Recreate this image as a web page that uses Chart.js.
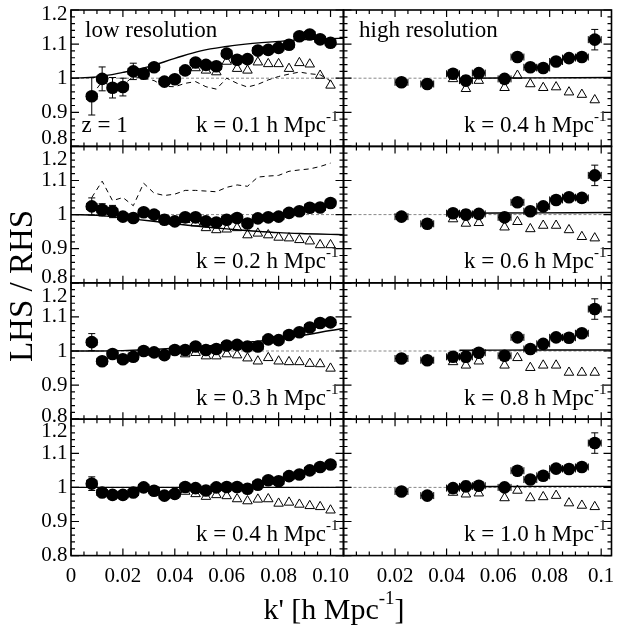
<!DOCTYPE html>
<html>
<head>
<meta charset="utf-8">
<script src="https://cdn.jsdelivr.net/npm/chart.js@4.4.1/dist/chart.umd.min.js"></script>
<style>
html, body { margin: 0; padding: 0; background: #fff; }
#wrap { position: relative; width: 618px; height: 626px; overflow: hidden; }
#wrap canvas { position: absolute; left: 0; top: 0; }
</style>
</head>
<body>
<div id="wrap"></div>
<script>
// k' positions of the bins
const lowK = [0.008, 0.012, 0.016, 0.020, 0.024, 0.028, 0.032, 0.036, 0.040, 0.044, 0.048, 0.052,
              0.056, 0.060, 0.064, 0.068, 0.072, 0.076, 0.080, 0.084, 0.088, 0.092, 0.096, 0.100];
const highK = [0.0225, 0.0325, 0.0425, 0.0475, 0.0525, 0.0625, 0.0675, 0.0725, 0.0775, 0.0825, 0.0875, 0.0925, 0.0975];
const lowDK = 0.002;
const highDK = 0.0025;

// smooth model curves
const theoryK = [0, 0.01, 0.02, 0.03, 0.04, 0.05, 0.06, 0.07, 0.08, 0.09, 0.10, 0.105];
const highTheoryK = [0.045, 0.075, 0.105];
const refK = [0, 0.105];
const refY = [1, 1];

// low resolution, k = 0.1
const lowCircle1 = [0.947, 0.998, 0.972, 0.974, 1.020, 1.013, 1.032, 0.990, 0.997, 1.023, 1.046, 1.039,
                    1.035, 1.072, 1.054, 1.056, 1.081, 1.083, 1.089, 1.098, 1.123, 1.128, 1.114, 1.104];
const lowErr1 = [0.055, 0.035, 0.030, 0.026, 0.024, 0.015, 0.010, 0.008, 0.007, 0.007, 0.006, 0.006,
                 0.006, 0.006, 0.005, 0.005, 0.005, 0.005, 0.005, 0.005, 0.005, 0.005, 0.005, 0.005];
const lowTri1 = [0.947, 0.998, 0.972, 0.974, 1.020, 1.013, 1.032, 0.990, 0.997, 1.020, 1.030, 1.023,
                 1.018, 1.049, 1.028, 1.023, 1.047, 1.042, 1.042, 1.028, 1.045, 1.041, 1.008, 0.979];
const lowDash1 = [0.950, 0.990, 0.975, 0.980, 1.005, 1.000, 0.993, 0.976, 0.975, 0.985, 0.990, 0.975,
                  0.968, 1.000, 0.985, 0.974, 0.982, 0.995, 1.005, 1.012, 1.018, 1.013, 1.010, 0.992];
const lowTheory1 = [1.000, 1.004, 1.017, 1.034, 1.058, 1.080, 1.093, 1.102, 1.108, 1.113, 1.116, 1.117];

// low resolution, k = 0.2
const lowCircle2 = [1.024, 1.014, 1.009, 0.994, 0.990, 1.007, 1.000, 0.985, 0.980, 0.992, 0.992, 0.980,
                    0.977, 0.985, 0.990, 0.974, 0.989, 0.992, 0.994, 1.005, 1.010, 1.020, 1.021, 1.034];
const lowErr2 = [0.025, 0.018, 0.018, 0.012, 0.010, 0.008, 0.008, 0.007, 0.007, 0.006, 0.006, 0.006,
                 0.006, 0.006, 0.005, 0.005, 0.005, 0.005, 0.005, 0.005, 0.005, 0.005, 0.005, 0.005];
const lowTri2 = [1.024, 1.014, 1.009, 0.994, 0.990, 1.007, 1.000, 0.985, 0.980, 0.985, 0.975, 0.961,
                 0.955, 0.957, 0.961, 0.940, 0.945, 0.940, 0.933, 0.931, 0.926, 0.922, 0.911, 0.911];
const lowDash2 = [1.050, 1.098, 1.041, 1.050, 1.026, 1.092, 1.063, 1.056, 1.060, 1.071, 1.071, 1.069,
                  1.067, 1.080, 1.087, 1.083, 1.110, 1.113, 1.115, 1.127, 1.131, 1.134, 1.141, 1.151];
const lowTheory2 = [1.000, 0.998, 0.990, 0.982, 0.973, 0.965, 0.958, 0.952, 0.947, 0.944, 0.942, 0.941];

// low resolution, k = 0.3
const lowCircle3 = [1.026, 0.970, 0.991, 0.976, 0.983, 1.000, 0.996, 0.988, 1.003, 1.003, 1.013, 1.003,
                    1.006, 1.016, 1.018, 1.013, 1.013, 1.034, 1.032, 1.047, 1.055, 1.069, 1.082, 1.084];
const lowErr3 = [0.025, 0.012, 0.010, 0.008, 0.008, 0.007, 0.007, 0.006, 0.006, 0.006, 0.005, 0.005,
                 0.005, 0.005, 0.005, 0.005, 0.005, 0.005, 0.005, 0.005, 0.005, 0.005, 0.005, 0.005];
const lowTri3 = [1.026, 0.970, 0.991, 0.976, 0.983, 1.000, 0.996, 0.988, 1.000, 0.991, 0.995, 0.985,
                 0.985, 0.991, 0.988, 0.979, 0.970, 0.980, 0.970, 0.968, 0.968, 0.963, 0.962, 0.949];
const lowTheory3 = [1.000, 1.000, 1.001, 1.004, 1.008, 1.013, 1.019, 1.027, 1.036, 1.047, 1.060, 1.066];

// low resolution, k = 0.4
const lowCircle4 = [1.011, 0.985, 0.978, 0.978, 0.985, 1.000, 0.990, 0.976, 0.981, 1.001, 0.998, 0.991,
                    1.000, 1.001, 1.001, 0.996, 1.008, 1.021, 1.018, 1.033, 1.038, 1.050, 1.060, 1.067];
const lowErr4 = [0.020, 0.012, 0.010, 0.008, 0.008, 0.007, 0.007, 0.006, 0.006, 0.006, 0.005, 0.005,
                 0.005, 0.005, 0.005, 0.005, 0.005, 0.005, 0.005, 0.005, 0.005, 0.005, 0.005, 0.005];
const lowTri4 = [1.011, 0.985, 0.978, 0.978, 0.985, 1.000, 0.990, 0.976, 0.981, 0.988, 0.981, 0.973,
                 0.978, 0.975, 0.966, 0.960, 0.965, 0.966, 0.953, 0.956, 0.950, 0.946, 0.943, 0.933];
const lowTheory4 = [1.000, 1.000, 1.000, 1.000, 1.000, 1.000, 1.000, 1.000, 1.000, 1.000, 1.000, 1.000];

// high resolution, k = 0.4 / 0.6 / 0.8 / 1.0
const highCircle1 = [0.988, 0.983, 1.013, 0.993, 1.015, 0.998, 1.062, 1.032, 1.030, 1.049, 1.059, 1.062, 1.113];
const highErr1 = [0.008, 0.008, 0.010, 0.015, 0.010, 0.010, 0.012, 0.008, 0.008, 0.008, 0.008, 0.008, 0.030];
const highTri1 = [0.988, 0.983, 0.998, 0.969, 0.993, 0.972, 1.008, 0.983, 0.972, 0.974, 0.959, 0.952, 0.936];
const highTheory1 = [1.000, 1.001, 1.002];

const highCircle2 = [0.994, 0.973, 1.004, 1.000, 1.002, 0.992, 1.036, 1.010, 1.024, 1.043, 1.051, 1.049, 1.115];
const highErr2 = [0.008, 0.008, 0.010, 0.015, 0.010, 0.010, 0.012, 0.008, 0.008, 0.008, 0.008, 0.008, 0.030];
const highTri2 = [0.994, 0.973, 0.987, 0.974, 0.976, 0.963, 0.979, 0.958, 0.968, 0.968, 0.955, 0.935, 0.931];
const highTheory2 = [1.004, 1.005, 1.006];

const highCircle3 = [0.978, 0.973, 0.983, 0.983, 0.995, 0.986, 1.040, 1.006, 1.021, 1.040, 1.039, 1.052, 1.123];
const highErr3 = [0.008, 0.008, 0.010, 0.015, 0.010, 0.010, 0.012, 0.008, 0.008, 0.008, 0.008, 0.008, 0.030];
const highTri3 = [0.978, 0.973, 0.968, 0.958, 0.970, 0.958, 0.980, 0.951, 0.958, 0.958, 0.937, 0.937, 0.937];
const highTheory3 = [1.002, 1.003, 1.003];

const highCircle4 = [0.988, 0.976, 0.998, 1.003, 1.005, 1.000, 1.049, 1.023, 1.034, 1.055, 1.054, 1.060, 1.130];
const highErr4 = [0.008, 0.008, 0.010, 0.015, 0.010, 0.010, 0.012, 0.008, 0.008, 0.008, 0.008, 0.008, 0.030];
const highTri4 = [0.988, 0.976, 0.985, 0.980, 0.983, 0.969, 0.991, 0.969, 0.972, 0.976, 0.954, 0.947, 0.943];
const highTheory4 = [1.002, 1.003, 1.003];

const yTickLabels = ['0.8', '0.9', '1', '1.1', '1.2'];
const lowXTickLabels = ['0', '0.02', '0.04', '0.06', '0.08', '0.10'];
const highXTickLabels = ['0.02', '0.04', '0.06', '0.08', '0.1'];
const kLabels = [['0.1', '0.4'], ['0.2', '0.6'], ['0.3', '0.8'], ['0.4', '1.0']];

// page layout
const W = 618, H = 626;
const colX = [[71, 343.5], [343.5, 617]];
const rowY = [[10, 146.4], [146.4, 282.8], [282.8, 419.2], [419.2, 555.6]];
const colMax = [0.105, 0.104];
const serif = '"Liberation Serif", "Times New Roman", serif';
// vertical nudges of the 0.8 / 1.2 labels so neighbours don't collide
const labelNudge = [{ '1.2': 4.5, '0.8': -8 }, { '1.2': 13, '0.8': -5 }, { '1.2': 14, '0.8': -3 }, { '1.2': 12.5, '0.8': 0 }];

const panels = {};

function pts(xs, ys) {
    return xs.map((x, i) => ({ x: x, y: ys[i] }));
}

function drawKLabel(ctx, k, xRight, baseline) {
    ctx.font = '15px ' + serif;
    const supW = ctx.measureText('-1').width;
    ctx.textAlign = 'left';
    ctx.fillText('-1', xRight - supW, baseline - 11);
    ctx.font = '23px ' + serif;
    ctx.textAlign = 'right';
    ctx.fillText('k = ' + k + ' h Mpc', xRight - supW, baseline);
}

const panelDeco = {
    id: 'panelDeco',
    beforeDatasetDraw(chart, args) {
        if (args.index !== 0) return;
        const p = panels[chart.canvas.id];
        const xs = chart.scales.x, ys = chart.scales.y;
        const ctx = chart.ctx;
        ctx.save();
        ctx.strokeStyle = '#000';
        ctx.lineWidth = 1;
        p.k.forEach((k, i) => {
            const px = xs.getPixelForValue(k), py = ys.getPixelForValue(p.v[i]);
            const x0 = xs.getPixelForValue(k - p.dk), x1 = xs.getPixelForValue(k + p.dk);
            const y0 = ys.getPixelForValue(p.v[i] - p.e[i]), y1 = ys.getPixelForValue(p.v[i] + p.e[i]);
            ctx.beginPath();
            ctx.moveTo(x0, py); ctx.lineTo(x1, py);
            ctx.moveTo(x0, py - 3.5); ctx.lineTo(x0, py + 3.5);
            ctx.moveTo(x1, py - 3.5); ctx.lineTo(x1, py + 3.5);
            ctx.moveTo(px, y0); ctx.lineTo(px, y1);
            ctx.moveTo(px - 3.5, y0); ctx.lineTo(px + 3.5, y0);
            ctx.moveTo(px - 3.5, y1); ctx.lineTo(px + 3.5, y1);
            ctx.stroke();
        });
        ctx.restore();
    },
    afterDraw(chart) {
        const p = panels[chart.canvas.id];
        const xs = chart.scales.x, ys = chart.scales.y;
        const a = chart.chartArea;
        const ctx = chart.ctx;
        ctx.save();
        ctx.strokeStyle = '#000';
        ctx.fillStyle = '#000';

        // inward ticks on all four sides
        ctx.lineWidth = 1.2;
        ctx.beginPath();
        for (let i = 0; i * 0.005 <= xs.max + 1e-9; i++) {
            const px = xs.getPixelForValue(i * 0.005);
            const len = i % 4 === 0 ? 7 : 4;
            ctx.moveTo(px, a.bottom); ctx.lineTo(px, a.bottom - len);
            ctx.moveTo(px, a.top); ctx.lineTo(px, a.top + len);
        }
        for (let i = 0; i <= 20; i++) {
            const py = ys.getPixelForValue(0.8 + i * 0.02);
            const len = i % 5 === 0 ? 8 : 4;
            ctx.moveTo(a.left, py); ctx.lineTo(a.left + len, py);
            ctx.moveTo(a.right, py); ctx.lineTo(a.right - len, py);
        }
        ctx.stroke();

        ctx.lineWidth = 1.6;
        ctx.strokeRect(a.left, a.top, a.right - a.left, a.bottom - a.top);

        // tick labels
        ctx.font = '21px ' + serif;
        if (p.col === 0) {
            ctx.textAlign = 'right';
            ctx.textBaseline = 'middle';
            yTickLabels.forEach(t => {
                const nudge = labelNudge[p.row][t] || 0;
                ctx.fillText(t, 67.5, ys.getPixelForValue(parseFloat(t)) + nudge);
            });
        }
        if (p.row === 3) {
            ctx.textAlign = 'center';
            ctx.textBaseline = 'alphabetic';
            const labels = p.col === 0 ? lowXTickLabels : highXTickLabels;
            labels.forEach(t => ctx.fillText(t, xs.getPixelForValue(parseFloat(t)), 582));
        }

        // panel texts
        ctx.textBaseline = 'alphabetic';
        drawKLabel(ctx, kLabels[p.row][p.col], a.right - 5, a.top + 121.7);
        ctx.font = '23px ' + serif;
        ctx.textAlign = 'left';
        if (p.row === 0 && p.col === 0) {
            ctx.fillText('low resolution', 85, 36.7);
            ctx.fillText('z = 1', 81.5, 131.7);
        }
        if (p.row === 0 && p.col === 1) {
            ctx.fillText('high resolution', 359, 36.7);
        }

        // axis titles, drawn once
        if (p.row === 3 && p.col === 0) {
            ctx.font = '33px ' + serif;
            ctx.save();
            ctx.translate(32, 286);
            ctx.rotate(-Math.PI / 2);
            ctx.textAlign = 'center';
            ctx.fillText('LHS / RHS', 0, 0);
            ctx.restore();

            const main = "k' [h Mpc";
            ctx.font = '30px ' + serif;
            const wMain = ctx.measureText(main).width;
            const wEnd = ctx.measureText(']').width;
            ctx.font = '19px ' + serif;
            const wSup = ctx.measureText('-1').width;
            const start = 334 - (wMain + wSup + wEnd) / 2;
            ctx.textAlign = 'left';
            ctx.font = '30px ' + serif;
            ctx.fillText(main, start, 619);
            ctx.fillText(']', start + wMain + wSup, 619);
            ctx.font = '19px ' + serif;
            ctx.fillText('-1', start + wMain, 604);
        }
        ctx.restore();
    }
};

function makePanel(row, col, k, dk, circle, err, tri, theoryX, theory, dash) {
    const id = 'p' + row + col;
    const canvas = document.createElement('canvas');
    canvas.id = id;
    canvas.width = W;
    canvas.height = H;
    document.getElementById('wrap').appendChild(canvas);
    panels[id] = { row: row, col: col, k: k, dk: dk, v: circle, e: err };

    const datasets = [
        { label: 'measured', data: pts(k, circle), pointStyle: 'circle', pointRadius: 6.3,
          backgroundColor: '#000', borderColor: '#000', borderWidth: 0, order: 0 },
        { label: 'alternative', data: pts(k, tri), pointStyle: 'triangle', pointRadius: 5.5,
          backgroundColor: 'rgba(0,0,0,0)', borderColor: '#000', borderWidth: 1, order: 1 },
        { label: 'model', data: pts(theoryX, theory), showLine: true, pointRadius: 0,
          borderColor: '#000', borderWidth: 1.4, tension: 0.4, order: 2 },
        { label: 'unity', data: pts(refK, refY), showLine: true, pointRadius: 0,
          borderColor: '#888', borderWidth: 1, borderDash: [3, 2], order: 4 }
    ];
    if (dash) {
        datasets.push({ label: 'dashed', data: pts(k, dash), showLine: true, pointRadius: 0,
          borderColor: '#000', borderWidth: 1, borderDash: [5, 4], tension: 0, order: 3 });
    }

    const [x0, x1] = colX[col];
    const [y0, y1] = rowY[row];
    new Chart(canvas.getContext('2d'), {
        type: 'scatter',
        data: { datasets: datasets },
        options: {
            responsive: false,
            animation: false,
            devicePixelRatio: 1,
            events: [],
            layout: { padding: { left: x0, top: y0, right: W - x1, bottom: H - y1 } },
            plugins: { legend: { display: false }, tooltip: { enabled: false } },
            scales: {
                x: { type: 'linear', min: 0, max: colMax[col], display: false },
                y: { type: 'linear', min: 0.8, max: 1.2, display: false }
            }
        },
        plugins: [panelDeco]
    });
}

makePanel(0, 0, lowK, lowDK, lowCircle1, lowErr1, lowTri1, theoryK, lowTheory1, lowDash1);
makePanel(1, 0, lowK, lowDK, lowCircle2, lowErr2, lowTri2, theoryK, lowTheory2, lowDash2);
makePanel(2, 0, lowK, lowDK, lowCircle3, lowErr3, lowTri3, theoryK, lowTheory3, null);
makePanel(3, 0, lowK, lowDK, lowCircle4, lowErr4, lowTri4, theoryK, lowTheory4, null);
makePanel(0, 1, highK, highDK, highCircle1, highErr1, highTri1, highTheoryK, highTheory1, null);
makePanel(1, 1, highK, highDK, highCircle2, highErr2, highTri2, highTheoryK, highTheory2, null);
makePanel(2, 1, highK, highDK, highCircle3, highErr3, highTri3, highTheoryK, highTheory3, null);
makePanel(3, 1, highK, highDK, highCircle4, highErr4, highTri4, highTheoryK, highTheory4, null);
</script>
</body>
</html>
